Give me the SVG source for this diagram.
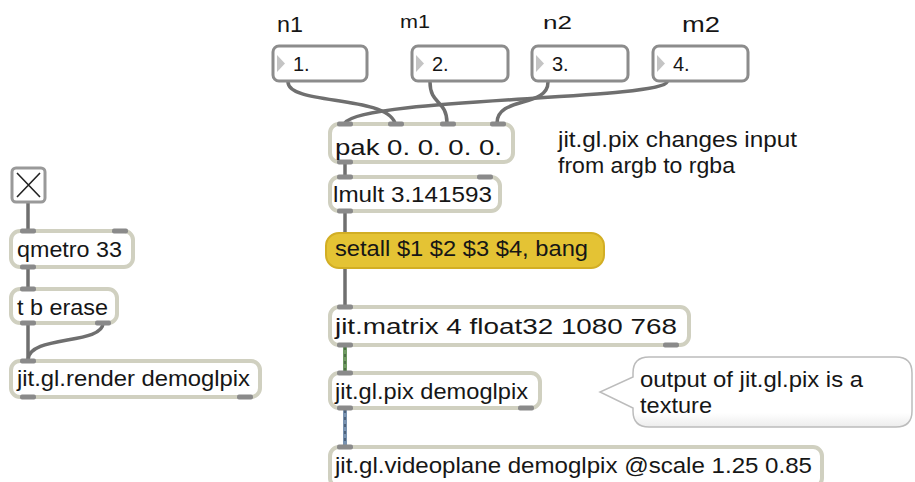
<svg xmlns="http://www.w3.org/2000/svg" width="915" height="482" viewBox="0 0 915 482">
  <style>
    .t { font-family: "Liberation Sans", Arial, sans-serif; font-size: 22px; fill: #161616; }
    .lbl { font-family: "Liberation Sans", Arial, sans-serif; fill: #161616; }
    .num { font-family: "Liberation Sans", Arial, sans-serif; font-size: 20px; fill: #161616; }
    .obj { fill: #ffffff; stroke: #d0d0c0; stroke-width: 4; }
    .nbox { fill: #ffffff; stroke: #8c8c8c; stroke-width: 3; }
    .tri { fill: #c4c4c4; }
    .io { fill: #8a8a8a; }
    .cord { fill: none; stroke: #6f6f6f; stroke-width: 3.5; stroke-linecap: round; }
    .msg { fill: #e4c334; stroke: #d2ae24; stroke-width: 2; }
  </style>
  <defs>
    <linearGradient id="bubbleFill" x1="0" y1="0" x2="0" y2="1">
      <stop offset="0" stop-color="#ffffff"/>
      <stop offset="0.8" stop-color="#ffffff"/>
      <stop offset="1" stop-color="#ececec"/>
    </linearGradient>
  </defs>
  <rect width="915" height="482" fill="#ffffff"/>

  <!-- patch cords -->
  <g id="connectors">
    <path class="cord" d="M288,82 C288,105 385,95 395,123"/>
    <path class="cord" d="M667,82 C660,100 360,98 345,123"/>
    <path class="cord" d="M430,82 C430,105 447,100 447,123"/>
    <path class="cord" d="M548,82 C548,108 497,96 497,123"/>
    <path class="cord" d="M345,162 V177"/>
    <path class="cord" d="M345,211 V233"/>
    <path class="cord" d="M345,268 V307"/>
    <!-- matrix cord -->
    <path d="M345,345 V373" stroke="#6f9a62" stroke-width="4" fill="none"/>
    <path d="M345,347 V371" stroke="#3f5f3a" stroke-width="1.4" stroke-dasharray="3 4" fill="none"/>
    <!-- texture cord -->
    <path d="M345,408 V447" stroke="#7892b0" stroke-width="4" fill="none"/>
    <path d="M345,410 V445" stroke="#3c4f66" stroke-width="1.4" stroke-dasharray="3 4" fill="none"/>
    <!-- render chain -->
    <path class="cord" d="M28,202 V230"/>
    <path class="cord" d="M28,267 V288"/>
    <path class="cord" d="M28,323 V360"/>
    <path class="cord" d="M103,323 C103,345 28,335 28,360"/>
  </g>

  <!-- labels above the number boxes -->
  <g id="labels">
    <text class="lbl" x="277" y="32" font-size="22" textLength="26" lengthAdjust="spacingAndGlyphs">n1</text>
    <text class="lbl" x="400" y="28" font-size="18" textLength="30" lengthAdjust="spacingAndGlyphs">m1</text>
    <text class="lbl" x="543" y="29" font-size="19" textLength="29" lengthAdjust="spacingAndGlyphs">n2</text>
    <text class="lbl" x="682" y="32" font-size="22" textLength="38" lengthAdjust="spacingAndGlyphs">m2</text>
  </g>

  <!-- number boxes -->
  <g id="num1">
    <rect class="nbox" x="273" y="46" width="94" height="35" rx="6"/>
    <path class="tri" d="M277,55 L285,63.5 L277,72 Z"/>
    <text class="num" x="293" y="71">1.</text>
  </g>
  <g id="num2">
    <rect class="nbox" x="412" y="46" width="96" height="35" rx="6"/>
    <path class="tri" d="M416,55 L424,63.5 L416,72 Z"/>
    <text class="num" x="432" y="71">2.</text>
  </g>
  <g id="num3">
    <rect class="nbox" x="532" y="46" width="96" height="35" rx="6"/>
    <path class="tri" d="M536,55 L544,63.5 L536,72 Z"/>
    <text class="num" x="552" y="71">3.</text>
  </g>
  <g id="num4">
    <rect class="nbox" x="653" y="46" width="95" height="35" rx="6"/>
    <path class="tri" d="M657,55 L665,63.5 L657,72 Z"/>
    <text class="num" x="673" y="71">4.</text>
  </g>

  <!-- pak -->
  <g id="pak">
    <rect class="obj" x="330" y="124" width="183" height="38" rx="9"/>
    <rect class="io" x="337" y="121.5" width="16" height="5" rx="2"/>
    <rect class="io" x="388" y="121.5" width="16" height="5" rx="2"/>
    <rect class="io" x="440" y="121.5" width="16" height="5" rx="2"/>
    <rect class="io" x="490" y="121.5" width="16" height="5" rx="2"/>
    <rect class="io" x="337" y="159.5" width="16" height="5" rx="2"/>
    <text class="t" x="335" y="155" font-size="24" textLength="167" lengthAdjust="spacingAndGlyphs">pak 0. 0. 0. 0.</text>
  </g>

  <g id="note-argb">
    <text class="t" x="558" y="147" textLength="239" lengthAdjust="spacingAndGlyphs">jit.gl.pix changes input</text>
    <text class="t" x="558" y="173" textLength="177" lengthAdjust="spacingAndGlyphs">from argb to rgba</text>
  </g>

  <!-- lmult -->
  <g id="lmult">
    <rect class="obj" x="330" y="177" width="170" height="34" rx="9"/>
    <rect class="io" x="337" y="174.5" width="16" height="5" rx="2"/>
    <rect class="io" x="477" y="174.5" width="16" height="5" rx="2"/>
    <rect class="io" x="337" y="208.5" width="16" height="5" rx="2"/>
    <text class="t" x="333" y="202" textLength="159" lengthAdjust="spacingAndGlyphs">lmult 3.141593</text>
  </g>

  <!-- message -->
  <g id="setall">
    <rect class="msg" x="326" y="233" width="278" height="35" rx="13"/>
    <text class="t" x="335" y="256" textLength="253" lengthAdjust="spacingAndGlyphs">setall $1 $2 $3 $4, bang</text>
  </g>

  <!-- jit.matrix -->
  <g id="jit-matrix">
    <rect class="obj" x="330" y="307" width="359" height="38" rx="9"/>
    <rect class="io" x="337" y="304.5" width="16" height="5" rx="2"/>
    <rect class="io" x="337" y="342.5" width="16" height="5" rx="2"/>
    <rect class="io" x="663" y="342.5" width="16" height="5" rx="2"/>
    <text class="t" x="335" y="334" textLength="342" lengthAdjust="spacingAndGlyphs">jit.matrix 4 float32 1080 768</text>
  </g>

  <!-- jit.gl.pix -->
  <g id="jit-gl-pix">
    <rect class="obj" x="330" y="373" width="210" height="35" rx="9"/>
    <rect class="io" x="337" y="370.5" width="16" height="5" rx="2"/>
    <rect class="io" x="337" y="405.5" width="16" height="5" rx="2"/>
    <rect class="io" x="518" y="405.5" width="16" height="5" rx="2"/>
    <text class="t" x="335" y="399" textLength="193" lengthAdjust="spacingAndGlyphs">jit.gl.pix demoglpix</text>
  </g>

  <!-- speech bubble comment -->
  <g id="note-texture">
    <path d="M649,357 H896 Q912,357 912,373 V411 Q912,427 896,427 H649 Q633,427 633,411 V408 L600,392 L633,377 V373 Q633,357 649,357 Z" fill="url(#bubbleFill)" stroke="#bcbcbc" stroke-width="1.5"/>
    <text class="t" x="640" y="387" textLength="223" lengthAdjust="spacingAndGlyphs">output of jit.gl.pix is a</text>
    <text class="t" x="640" y="413" textLength="72" lengthAdjust="spacingAndGlyphs">texture</text>
  </g>

  <!-- jit.gl.videoplane -->
  <g id="jit-gl-videoplane">
    <rect class="obj" x="330" y="447" width="492" height="40" rx="9"/>
    <rect class="io" x="337" y="444.5" width="16" height="5" rx="2"/>
    <text class="t" x="335" y="473" textLength="477" lengthAdjust="spacingAndGlyphs">jit.gl.videoplane demoglpix @scale 1.25 0.85</text>
  </g>

  <!-- toggle -->
  <g id="toggle">
    <rect x="12" y="168" width="33" height="34" rx="4" fill="#ffffff" stroke="#999999" stroke-width="3"/>
    <path d="M17,173 L40,197 M40,173 L17,197" stroke="#222222" stroke-width="1.6"/>
  </g>

  <g id="qmetro">
    <rect class="obj" x="11" y="231" width="122" height="36" rx="9"/>
    <rect class="io" x="20" y="228.5" width="16" height="5" rx="2"/>
    <rect class="io" x="112" y="228.5" width="16" height="5" rx="2"/>
    <rect class="io" x="20" y="264.5" width="16" height="5" rx="2"/>
    <text class="t" x="17" y="257" textLength="105" lengthAdjust="spacingAndGlyphs">qmetro 33</text>
  </g>

  <g id="trigger">
    <rect class="obj" x="11" y="289" width="106" height="34" rx="9"/>
    <rect class="io" x="20" y="286.5" width="16" height="5" rx="2"/>
    <rect class="io" x="20" y="320.5" width="16" height="5" rx="2"/>
    <rect class="io" x="95" y="320.5" width="16" height="5" rx="2"/>
    <text class="t" x="17" y="315" textLength="91" lengthAdjust="spacingAndGlyphs">t b erase</text>
  </g>

  <g id="jit-gl-render">
    <rect class="obj" x="11" y="361" width="249" height="36" rx="9"/>
    <rect class="io" x="20" y="358.5" width="16" height="5" rx="2"/>
    <rect class="io" x="20" y="394.5" width="16" height="5" rx="2"/>
    <rect class="io" x="237" y="394.5" width="16" height="5" rx="2"/>
    <text class="t" x="17" y="386" textLength="233" lengthAdjust="spacingAndGlyphs">jit.gl.render demoglpix</text>
  </g>
</svg>
